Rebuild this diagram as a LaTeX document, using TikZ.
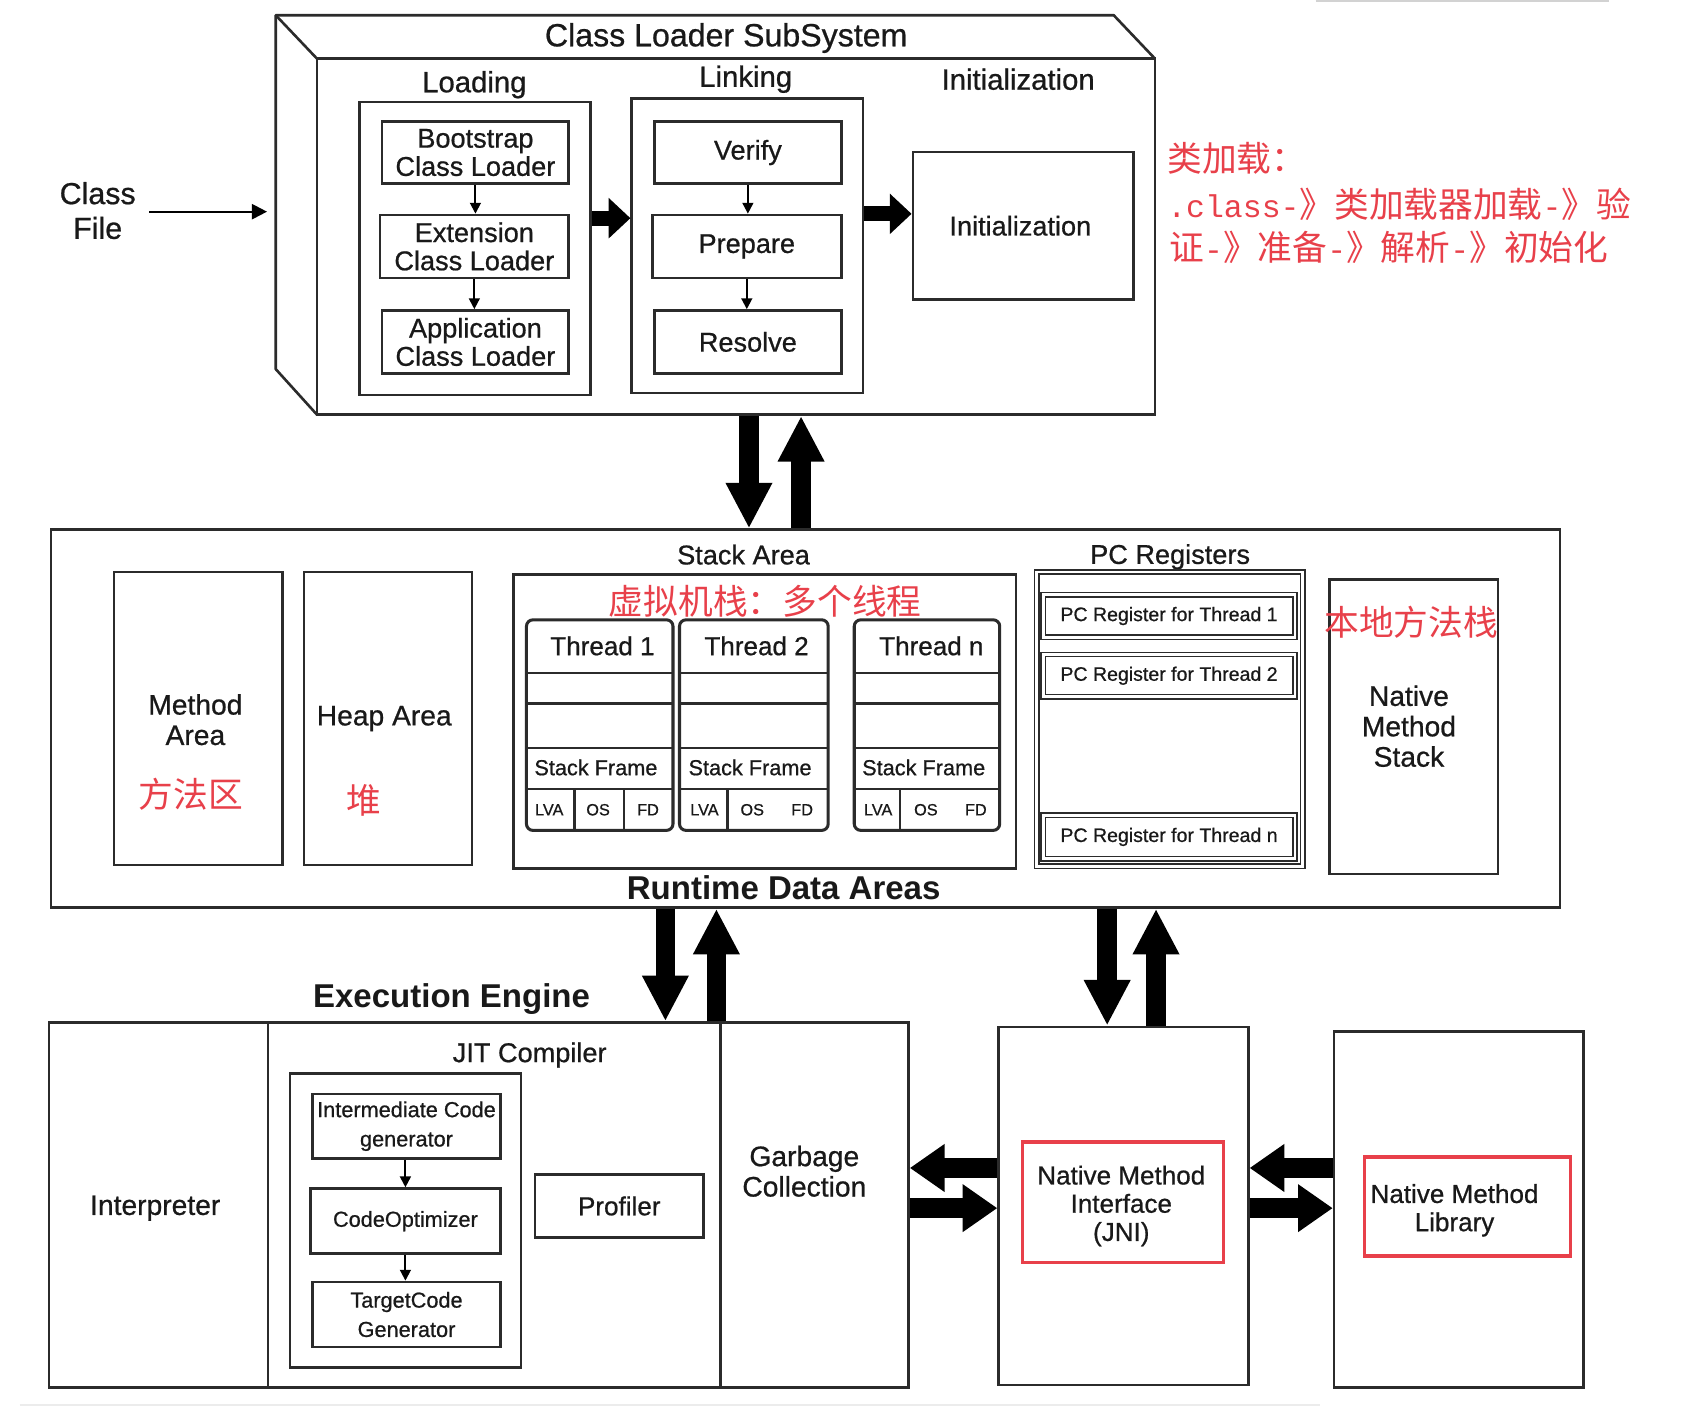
\documentclass[tikz,border=0pt]{standalone}
\usepackage{fontspec}
\setmainfont{Liberation Sans}[UprightFeatures={FakeBold=0.7}]
\newfontfamily\cjk{Noto Sans CJK SC}
\newfontfamily\rmono{Liberation Mono}
\usetikzlibrary{fit,arrows.meta}
\definecolor{redtxt}{HTML}{E8404A}
\definecolor{ln}{HTML}{2B2B2B}
\newcommand\mm[1]{{\rmono\fontsize{14.5}{20}\selectfont #1}}
\tikzset{
 box/.style={draw=ln, line width=1.2pt, inner sep=0pt},
 thrbox/.style={draw=ln, line width=1.4pt, inner sep=0pt, rounded corners=3pt},
 pcb/.style={draw=ln, line width=0.7pt, double=white, double distance=1.3pt, inner sep=0pt},
 inl/.style={draw=ln, line width=1.2pt},
 lbl/.style={inner sep=0pt, align=center, text=black!90},
 redt/.style={text=redtxt, font=\cjk\fontsize{16}{20}\selectfont, inner sep=0pt},
 redbox/.style={draw=redtxt, line width=1.6pt, inner sep=0pt},
 fatv/.style={draw=black, line width=9pt, -{Triangle[length=21pt,width=20pt]}},
 fath/.style={draw=black, line width=9pt, -{Triangle[length=16pt,width=21pt]}},
 fats/.style={draw=black, line width=7pt, -{Triangle[length=10pt,width=18pt]}},
 thinar/.style={draw=black, line width=0.9pt, -{Triangle[length=5pt,width=5pt]}},
 f15b/.style={font=\bfseries\fontsize{15.2}{17}\selectfont},
 f148/.style={font=\fontsize{14.8}{16}\selectfont},
 f14/.style={font=\fontsize{14}{16}\selectfont},
 f135/.style={font=\fontsize{13.5}{15}\selectfont},
 f13/.style={font=\fontsize{13}{14}\selectfont},
 f125/.style={font=\fontsize{12.5}{13}\selectfont},
 f12/.style={font=\fontsize{12}{13}\selectfont},
 f10/.style={font=\fontsize{10}{13.5}\selectfont},
 f9/.style={font=\fontsize{9}{11}\selectfont},
 f7/.style={font=\fontsize{7.5}{9}\selectfont},
}
\begin{document}
\begin{tikzpicture}[x=0.5pt,y=-0.5pt]
\useasboundingbox (0,0) rectangle (1568,1314);
\fill[white] (0,0) rectangle (1568,1314);
\draw[gray!35, line width=0.8pt] (1212,1) -- (1482,1);
\draw[gray!15, line width=1pt] (18,1294) -- (1216,1294);

% ---------- Class Loader SubSystem ----------
\node[box, fit={(292,54) (1064,382)}] (cls) {};
\draw[ln, line width=1.2pt, line join=round] (292,382) -- (254,340) -- (254,14) -- (1026,14) -- (1064,54);
\draw[ln, line width=1.2pt] (254,14) -- (292,54);
\node[lbl, f148] (clsT) at (669,35) {Class Loader SubSystem};

\node[lbl, f135] (loadT) at (437,78) {Loading};
\node[box, fit={(331,94) (544,364)}] (load) {};
\node[box, fit={(352,112) (524,169)}] (boot) {};
\node[box, fit={(350,198) (524,256)}] (ext) {};
\node[box, fit={(352,286) (524,344)}] (app) {};
\node[lbl, f125] (bootT) at (boot.center) {Bootstrap\\Class Loader};
\node[lbl, f125] (extT) at (ext.center) {Extension\\Class Loader};
\node[lbl, f125] (appT) at (app.center) {Application\\Class Loader};
\draw[thinar] (boot.south) -- (boot.south |- ext.north);
\draw[thinar] (ext.south) -- (ext.south |- app.north);

\node[lbl, f135] (linkT) at (687,73) {Linking};
\node[box, fit={(582,91) (795,362)}] (link) {};
\node[box, fit={(603,112) (775,169)}] (ver) {};
\node[box, fit={(601,198) (775,256)}] (prep) {};
\node[box, fit={(603,286) (775,344)}] (res) {};
\node[lbl, f125] (verT) at (ver.center) {Verify};
\node[lbl, f125] (prepT) at (prep.center) {Prepare};
\node[lbl, f125] (resT) at (res.center) {Resolve};
\draw[thinar] (ver.south) -- (ver.south |- prep.north);
\draw[thinar] (prep.south) -- (prep.south |- res.north);

\node[lbl, f135] (initT) at (938,73) {Initialization};
\node[box, fit={(841,140) (1044,276)}] (init) {};
\node[lbl, f125] (initIn) at (940,208) {Initialization};

\coordinate (yl) at (0,201);
\coordinate (yi) at (0,197);
\draw[fats] (load.east |- yl) -- (link.west |- yl);
\draw[fats] (link.east |- yi) -- (init.west |- yi);

% Class File
\node[lbl, f14] (cf) at (90,194) {Class\\File};
\coordinate (cfb) at (246,195);
\draw[draw=black, line width=1pt, -{Triangle[length=7pt,width=7pt]}] ([xshift=6pt]cf.east |- cfb) -- (cfb);

% red notes
\node[redt, anchor=base west] (n1) at (1075,158) {类加载：};
\node[redt, anchor=base west] (n2) at (1075,200) {\mm{.class-}》类加载器加载\mm{-}》验};
\node[redt, anchor=base west] (n3) at (1077,240) {证\mm{-}》准备\mm{-}》解析\mm{-}》初始化};

% ---------- Runtime Data Areas ----------
\node[box, fit={(47,488) (1437,836)}] (rda) {};
\node[lbl, f15b] (rdaT) at (722,818) {Runtime Data Areas};

\coordinate (xa) at (690,0);
\coordinate (xb) at (738,0);
\draw[fatv] (xa |- cls.south) -- (xa |- rda.north);
\draw[fatv] (xb |- rda.north) -- (xb |- cls.south);

\node[box, fit={(105,527) (260,797)}] (meth) {};
\node[lbl, f13] (methT) at (180,663) {Method\\Area};
\node[redt] (methR) at (176,732) {方法区};
\node[box, fit={(280,527) (435,797)}] (heap) {};
\node[lbl, f13] (heapT) at (354,662) {Heap Area};
\node[redt] (heapR) at (335,737) {堆};

\node[lbl, f125] (stkT) at (685,511) {Stack Area};
\node[box, fit={(473,529) (936,800)}] (stk) {};
\node[redt] (stkR) at (705,554) {虚拟机栈：多个线程};

% thread 1
\node[thrbox, fit={(485,571) (620,765)}] (t1) {};
\draw[inl] (485,620) -- (620,620) (485,648) -- (620,648) (485,689) -- (620,689) (485,727) -- (620,727)
  (529,727) -- (529,765) (575,727) -- (575,765);
\node[lbl, f12] (t1a) at (555,595) {Thread 1};
\node[lbl, f10] (t1b) at (549,707) {Stack Frame};
\node[lbl, f7] (t1c) at (506,746) {LVA};
\node[lbl, f7] (t1d) at (551,746) {OS};
\node[lbl, f7] (t1e) at (597,746) {FD};
% thread 2
\node[thrbox, fit={(626,571) (763,765)}] (t2) {};
\draw[inl] (626,620) -- (763,620) (626,648) -- (763,648) (626,689) -- (763,689) (626,727) -- (763,727)
  (670,727) -- (670,765);
\node[lbl, f12] (t2a) at (697,595) {Thread 2};
\node[lbl, f10] (t2b) at (691,707) {Stack Frame};
\node[lbl, f7] (t2c) at (649,746) {LVA};
\node[lbl, f7] (t2d) at (693,746) {OS};
\node[lbl, f7] (t2e) at (739,746) {FD};
% thread n
\node[thrbox, fit={(787,571) (921,765)}] (tn) {};
\draw[inl] (787,620) -- (921,620) (787,648) -- (921,648) (787,689) -- (921,689) (787,727) -- (921,727)
  (829,727) -- (829,765);
\node[lbl, f12] (tna) at (858,595) {Thread n};
\node[lbl, f10] (tnb) at (851,707) {Stack Frame};
\node[lbl, f7] (tnc) at (809,746) {LVA};
\node[lbl, f7] (tnd) at (853,746) {OS};
\node[lbl, f7] (tne) at (899,746) {FD};

\node[lbl, f125] (pcT) at (1078,513) {PC Registers};
\node[pcb, fit={(955,527) (1200,798)}] (pc) {};
\node[pcb, fit={(961,548) (1193,587)}] (pc1) {};
\node[pcb, fit={(961,603) (1193,642)}] (pc2) {};
\node[pcb, fit={(961,751) (1193,791)}] (pcn) {};
\node[lbl, f9] (pc1T) at (pc1.center) {PC Register for Thread 1};
\node[lbl, f9] (pc2T) at (pc2.center) {PC Register for Thread 2};
\node[lbl, f9] (pcnT) at (pcn.center) {PC Register for Thread n};

\node[box, fit={(1225,534) (1380,805)}] (nms) {};
\node[lbl, f13] (nmsT) at (1298,669) {Native\\Method\\Stack};
\node[redt] (nmsR) at (1300,573) {本地方法栈};

% ---------- Execution Engine ----------
\node[lbl, f15b] (eeT) at (416,920) {Execution Engine};
\node[box, fit={(45,942) (837,1278)}] (ee) {};
\node[box, fit={(45,942) (247,1278)}] (interp) {};
\node[lbl, f13] (interpT) at (143,1113) {Interpreter};
\node[box, fit={(247,942) (664,1278)}] (jit) {};
\node[box, fit={(664,942) (837,1278)}] (gc) {};
\node[lbl, f13] (gcT) at (741,1079) {Garbage\\Collection};
\node[lbl, f125] (jitT) at (488,972) {JIT Compiler};
\node[box, fit={(267,989) (480,1260)}] (jitin) {};
\node[box, fit={(288,1008) (461,1067)}] (icg) {};
\node[box, fit={(286,1095) (461,1155)}] (cop) {};
\node[box, fit={(288,1181) (461,1241)}] (tcg) {};
\node[lbl, f10] (icgT) at (icg.center) {Intermediate Code\\generator};
\node[lbl, f10] (copT) at (cop.center) {CodeOptimizer};
\node[lbl, f10] (tcgT) at (tcg.center) {TargetCode\\Generator};
\draw[thinar] (icg.south -| cop.north) -- (cop.north);
\draw[thinar] (cop.south) -- (cop.south |- tcg.north);
\node[box, fit={(493,1082) (648,1140)}] (prof) {};
\node[lbl, f12] (profT) at (prof.center) {Profiler};

\coordinate (xc) at (613,0);
\coordinate (xd) at (660,0);
\draw[fatv] (xc |- rda.south) -- (xc |- ee.north);
\draw[fatv] (xd |- ee.north) -- (xd |- rda.south);

% ---------- JNI and library ----------
\node[box, fit={(920,946) (1150,1276)}] (jni) {};
\node[redbox, fit={(942,1052) (1127,1163)}] (jnir) {};
\node[lbl, f12] (jniT) at (1033,1111) {Native Method\\Interface\\(JNI)};
\node[box, fit={(1229,950) (1459,1278)}] (lib) {};
\node[redbox, fit={(1257,1066) (1447,1157)}] (libr) {};
\node[lbl, f12] (libT) at (1340,1115) {Native Method\\Library};

\coordinate (xe) at (1020,0);
\coordinate (xf) at (1065,0);
\draw[fatv] (xe |- rda.south) -- (xe |- jni.north);
\draw[fatv] (xf |- jni.north) -- (xf |- rda.south);

\coordinate (yu) at (0,1076);
\coordinate (yd) at (0,1113);
\draw[fath] (jni.west |- yu) -- (ee.east |- yu);
\draw[fath] (ee.east |- yd) -- (jni.west |- yd);
\draw[fath] (lib.west |- yu) -- (jni.east |- yu);
\draw[fath] (jni.east |- yd) -- (lib.west |- yd);
\end{tikzpicture}
\end{document}
